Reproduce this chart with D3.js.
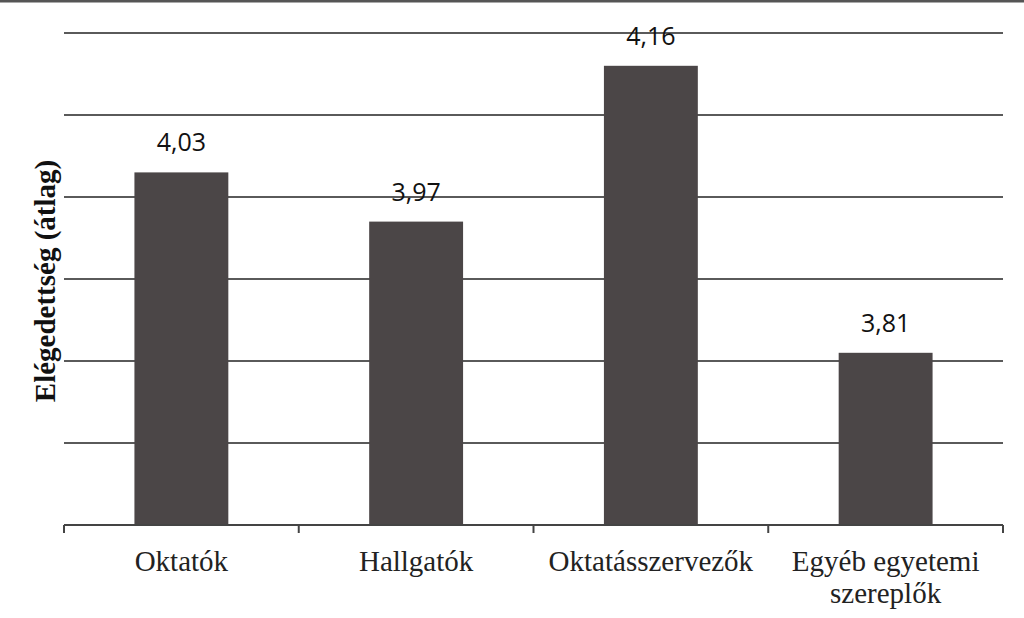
<!DOCTYPE html>
<html><head><meta charset="utf-8">
<script src="https://cdn.jsdelivr.net/npm/d3@7"></script>
<style>body{margin:0;background:#fff}svg{display:block}</style>
</head><body>
<svg id="chart" width="1024" height="618"></svg>
<script>
const categories = [["Oktatók"], ["Hallgatók"], ["Oktatásszervezők"], ["Egyéb egyetemi", "szereplők"]];
const values = [4.03, 3.97, 4.16, 3.81];
const valueLabels = ["4,03", "3,97", "4,16", "3,81"];
const yTicks = [3.6, 3.7, 3.8, 3.9, 4.0, 4.1, 4.2];
const yTitle = "Elégedettség (átlag)";

(function () {
const svg = d3.select("#chart");
const W = 1024, H = 618;
const mLeft = 64, mRight = 1003, mTop = 33, mBottom = 525;

// top border
svg.append("line").attr("x1", 0).attr("x2", W).attr("y1", 1).attr("y2", 1)
  .attr("stroke", "#555").attr("stroke-width", 3);

const keys = categories.map(c => c.join(" "));
const x = d3.scaleBand().domain(keys).range([mLeft, mRight]).paddingInner(0.6).paddingOuter(0.3);
const y = d3.scaleLinear().domain([3.6, 4.2]).range([mBottom, mTop]);

// gridlines
svg.append("g").selectAll("line").data(yTicks.filter(t => t > 3.6)).join("line")
  .attr("x1", mLeft).attr("x2", mRight)
  .attr("y1", d => y(d)).attr("y2", d => y(d))
  .attr("stroke", "#5a5a5a").attr("stroke-width", 2);

// bars
svg.append("g").selectAll("rect").data(values).join("rect")
  .attr("x", (d, i) => x(keys[i]))
  .attr("width", x.bandwidth())
  .attr("y", d => y(d))
  .attr("height", d => mBottom - y(d))
  .attr("fill", "#4b4647");

// value labels
svg.append("g").selectAll("text").data(values).join("text")
  .attr("x", (d, i) => x(keys[i]) + x.bandwidth() / 2)
  .attr("y", d => y(d) - 21)
  .attr("text-anchor", "middle")
  .attr("font-family", "'Open Sans', sans-serif")
  .attr("font-size", 25)
  .attr("fill", "#111")
  .text((d, i) => valueLabels[i]);

// x axis
const xAxisScale = d3.scalePoint().domain(d3.range(keys.length + 1)).range([mLeft, mRight]);
const ax = svg.append("g");
ax.append("line").attr("x1", mLeft).attr("x2", mRight).attr("y1", mBottom).attr("y2", mBottom)
  .attr("stroke", "#444").attr("stroke-width", 2);
ax.selectAll("line.tick").data(xAxisScale.domain()).join("line").attr("class", "tick")
  .attr("x1", d => xAxisScale(d)).attr("x2", d => xAxisScale(d))
  .attr("y1", mBottom).attr("y2", mBottom + 8)
  .attr("stroke", "#444").attr("stroke-width", 2);

const xl = svg.append("g").selectAll("text").data(categories).join("text")
  .attr("x", (d, i) => x(keys[i]) + x.bandwidth() / 2)
  .attr("y", 571)
  .attr("text-anchor", "middle")
  .attr("font-family", "'Liberation Serif', 'DejaVu Serif', serif")
  .attr("font-size", 29)
  .attr("fill", "#222");
xl.each(function(d, i) {
  const t = d3.select(this);
  d.forEach((line, j) => {
    t.append("tspan").attr("x", x(keys[i]) + x.bandwidth() / 2).attr("dy", j === 0 ? 0 : 32).text(line);
  });
});

// y title
svg.append("text")
  .attr("transform", "translate(55,281) rotate(-90)")
  .attr("text-anchor", "middle")
  .attr("font-family", "'Liberation Serif', 'DejaVu Serif', serif")
  .attr("font-weight", "bold")
  .attr("font-size", 29)
  .attr("fill", "#111")
  .text(yTitle);
})();
</script>
</body></html>
